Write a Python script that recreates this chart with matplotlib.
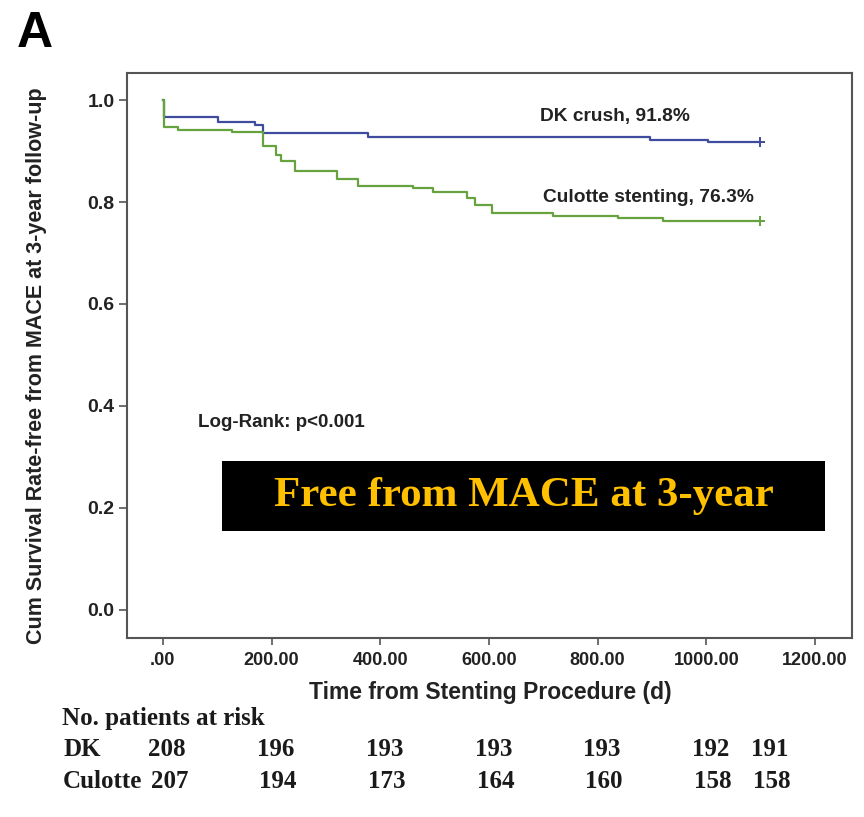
import matplotlib
matplotlib.use("Agg")
import matplotlib.pyplot as plt
import matplotlib.transforms as mtransforms
from matplotlib.patches import Rectangle

# Kaplan-Meier step data (days, survival)
dk_days = [0, 3, 101, 169, 185, 377, 896, 1003, 1099]
dk_surv = [1.0, 0.967, 0.957, 0.951, 0.935, 0.928, 0.922, 0.918, 0.918]

cu_days = [0, 3, 28, 127, 185, 209, 218, 243, 320, 359, 460, 497, 559, 574,
           605, 718, 838, 920, 1099]
cu_surv = [1.0, 0.948, 0.941, 0.937, 0.909, 0.892, 0.880, 0.861, 0.846, 0.831,
           0.827, 0.820, 0.807, 0.794, 0.778, 0.773, 0.768, 0.763, 0.763]

x_ticks = [0, 200, 400, 600, 800, 1000, 1200]
x_ticklabels = [".00", "200.00", "400.00", "600.00", "800.00", "1000.00", "1200.00"]
y_ticks = [0.0, 0.2, 0.4, 0.6, 0.8, 1.0]

risk_times = [0, 200, 400, 600, 800, 1000, 1108]
risk_dk = [208, 196, 193, 193, 193, 192, 191]
risk_cu = [207, 194, 173, 164, 160, 158, 158]

BLUE = "#3f4b9c"
GREEN = "#66a23e"
INK = "#222222"
SANS = "Liberation Sans"
SERIF = "Liberation Serif"

fig = plt.figure(figsize=(8.64, 8.17), dpi=100)
ax = fig.add_axes([127 / 864, 1 - 638 / 817, (852 - 127) / 864, (638 - 73) / 817])

ax.step(dk_days, dk_surv, where="post", color=BLUE, lw=1.6)
ax.step(cu_days, cu_surv, where="post", color=GREEN, lw=1.6)
ax.plot(dk_days[-1], dk_surv[-1], marker="+", color=BLUE, ms=7, mew=1.4)
ax.plot(cu_days[-1], cu_surv[-1], marker="+", color=GREEN, ms=7, mew=1.4)

ax.set_xlim(-66, 1268)
ax.set_ylim(-0.055, 1.053)
ax.set_xticks(x_ticks)
ax.set_xticklabels(x_ticklabels)
ax.set_yticks(y_ticks)
ax.set_yticklabels([f"{v:.1f}" for v in y_ticks])
for lab in ax.get_xticklabels():
    lab.set_fontsize(13)
for lab in ax.get_yticklabels():
    lab.set_fontsize(14)
for lab in ax.get_xticklabels() + ax.get_yticklabels():
    lab.set_fontfamily(SANS)
    lab.set_fontweight("bold")
    lab.set_color(INK)
ax.tick_params(axis="x", length=5, width=1.2, color="#555555", pad=5)
ax.tick_params(axis="y", length=6, width=1.2, color="#555555", pad=3)
for sp in ax.spines.values():
    sp.set_color("#555555")
    sp.set_linewidth(1.5)

fig.text(490 / 864, 1 - 692 / 817, "Time from Stenting Procedure (d)", ha="center",
         va="center", fontsize=16.5, fontweight="bold", family=SANS, color=INK)
fig.text(37 / 864, 1 - 366 / 817, "Cum Survival Rate-free from MACE at 3-year follow-up",
         ha="center", va="center", rotation=90, fontsize=15.5, fontweight="bold",
         family=SANS, color=INK)

ax.text(832, 0.967, "DK crush, 91.8%", ha="center", va="center", fontsize=13.8,
        fontweight="bold", family=SANS, color=INK)
ax.text(893, 0.808, "Culotte stenting, 76.3%", ha="center", va="center", fontsize=13.8,
        fontweight="bold", family=SANS, color=INK)
ax.text(64, 0.367, "Log-Rank: p<0.001", ha="left", va="center", fontsize=13.5,
        fontweight="bold", family=SANS, color=INK)

# black banner
fig.patches.append(Rectangle((222 / 864, 1 - 531 / 817), (825 - 222) / 864, 70 / 817,
                             transform=fig.transFigure, facecolor="black",
                             edgecolor="none", zorder=5))
fig.text(524 / 864, 1 - 496 / 817, "Free from MACE at 3-year", ha="center", va="center",
         fontsize=31, fontweight="bold", family=SERIF, color="#FFC000", zorder=6)

fig.text(17 / 864, 1 - 34 / 817, "A", ha="left", va="center", fontsize=36,
         fontweight="bold", family=SANS, color="black")

# number at risk table
trans = mtransforms.blended_transform_factory(ax.transData, fig.transFigure)
tbl = dict(ha="left", va="center", fontsize=18, fontweight="bold", family=SERIF,
           color="#1a1a1a")
fig.text(62 / 864, 1 - 718 / 817, "No. patients at risk", **tbl)
fig.text(63 / 864, 1 - 749 / 817, "DK", **tbl)
fig.text(63 / 864, 1 - 781 / 817, "Culotte", **tbl)
for t, a, b in zip(risk_times, risk_dk, risk_cu):
    fig.text(t + 8, 1 - 749 / 817, str(a), ha="center", va="center", fontsize=18,
             fontweight="bold", family=SERIF, color="#1a1a1a", transform=trans)
    fig.text(t + 12, 1 - 781 / 817, str(b), ha="center", va="center", fontsize=18,
             fontweight="bold", family=SERIF, color="#1a1a1a", transform=trans)

fig.savefig("out.png", dpi=100)
